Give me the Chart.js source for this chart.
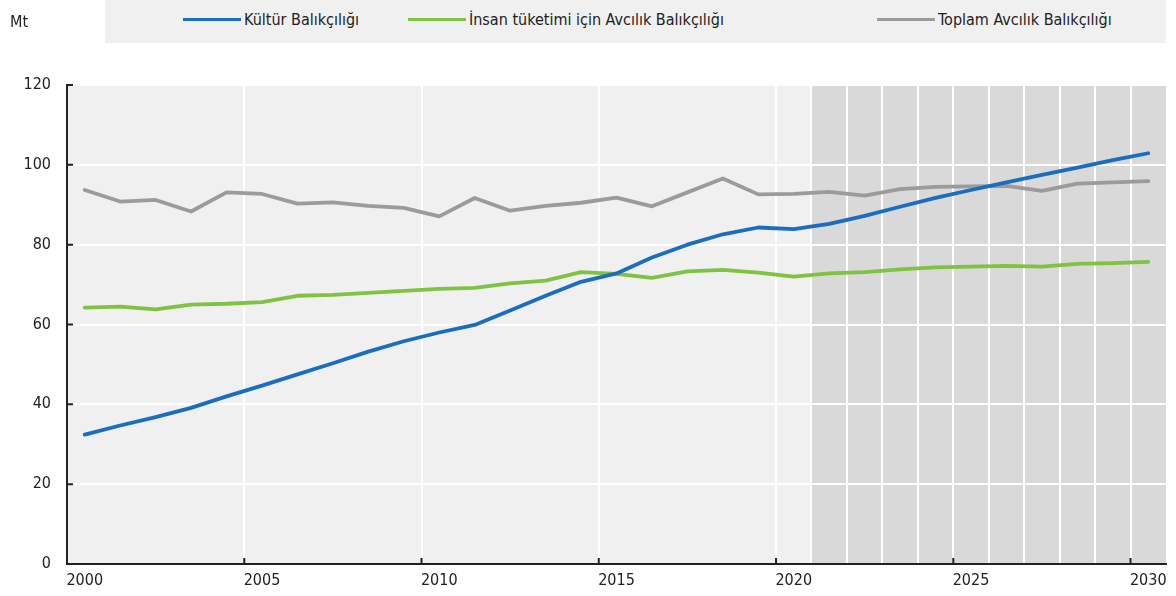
<!DOCTYPE html>
<html>
<head>
<meta charset="utf-8">
<script src="https://cdn.jsdelivr.net/npm/chart.js@4.4.1/dist/chart.umd.min.js"></script>
<style>
  html, body { margin: 0; padding: 0; background: #ffffff; }
  body { width: 1176px; height: 596px; position: relative; overflow: hidden;
         font-family: "Liberation Sans Narrow", "Arial Narrow", "DejaVu Sans Condensed", sans-serif; color: #222; }
  #chart { position: absolute; left: 0; top: 0; }
  #unit { position: absolute; left: 10px; top: 12px; font-size: 16px; }
  #band { position: absolute; left: 105px; top: 0px; width: 1061px; height: 43px; background: #f0f0f0; }
  .item { position: absolute; top: 10px; font-size: 16px; white-space: nowrap; line-height: 20px; }
  .swatch { display: inline-block; width: 58px; height: 3px; vertical-align: middle; margin-right: 3px; position: relative; top: -1px; }
</style>
</head>
<body>
<canvas id="chart" width="1176" height="596"></canvas>
<div id="unit">Mt</div>
<div id="band"></div>
<div id="legend"></div>
<script>
const years = ["2000","2001","2002","2003","2004","2005","2006","2007","2008","2009","2010",
  "2011","2012","2013","2014","2015","2016","2017","2018","2019","2020",
  "2021","2022","2023","2024","2025","2026","2027","2028","2029","2030"];

const seriesNames = ["Kültür Balıkçılığı", "İnsan tüketimi için Avcılık Balıkçılığı", "Toplam Avcılık Balıkçılığı"];

const aquaculture = [32.4, 34.7, 36.8, 39.1, 42.0, 44.7, 47.5, 50.3, 53.2, 55.8, 58.0,
  59.9, 63.5, 67.2, 70.7, 72.8, 76.8, 80.0, 82.6, 84.3, 83.9,
  85.2, 87.2, 89.5, 91.7, 93.7, 95.6, 97.5, 99.3, 101.2, 102.9];

const captureHuman = [64.25, 64.5, 63.8, 65.0, 65.2, 65.6, 67.2, 67.4, 67.9, 68.4, 68.9,
  69.2, 70.3, 71.0, 73.1, 72.7, 71.7, 73.3, 73.7, 73.0, 72.0,
  72.8, 73.1, 73.8, 74.3, 74.5, 74.7, 74.5, 75.2, 75.4, 75.7];

const captureTotal = [93.7, 90.8, 91.2, 88.3, 93.1, 92.7, 90.3, 90.6, 89.7, 89.2, 87.1,
  91.7, 88.5, 89.7, 90.5, 91.8, 89.6, 93.1, 96.6, 92.6, 92.7,
  93.2, 92.3, 93.9, 94.5, 94.6, 94.7, 93.5, 95.3, 95.6, 95.9];

const yTicks = [0, 20, 40, 60, 80, 100, 120];
const projectionStart = "2021";

const colors = ["#1a6dbf", "#80c342", "#9b9b9b"];
const legendX = [183, 408, 877];

// HTML legend
const legendEl = document.getElementById('legend');
seriesNames.forEach((name, i) => {
  const d = document.createElement('div');
  d.className = 'item';
  d.style.left = legendX[i] + 'px';
  d.innerHTML = '<span class="swatch" style="background:' + colors[i] + '"></span>' + name;
  legendEl.appendChild(d);
});

const FONT = '"Liberation Sans Narrow", "Arial Narrow", "DejaVu Sans Condensed", sans-serif';

const bgPlugin = {
  id: 'bg',
  beforeDraw(chart) {
    const { ctx, chartArea: a, scales: { x } } = chart;
    ctx.save();
    ctx.fillStyle = '#f0f0f0';
    ctx.fillRect(a.left, a.top, a.right - a.left, a.bottom - a.top);
    const idx = years.indexOf(projectionStart);
    const sx = (x.getPixelForValue(idx - 1) + x.getPixelForValue(idx)) / 2;
    ctx.fillStyle = '#d9d9d9';
    ctx.fillRect(sx, a.top, a.right - sx, a.bottom - a.top);
    ctx.restore();
  },
  afterDatasetsDraw(chart) {
    const { ctx, chartArea: a, scales: { x, y } } = chart;
    ctx.save();
    ctx.strokeStyle = '#222';
    ctx.lineWidth = 2;
    ctx.beginPath();
    for (let i = 5; i < years.length; i += 5) {
      const px = (x.getPixelForValue(i - 1) + x.getPixelForValue(i)) / 2;
      ctx.moveTo(px, a.bottom);
      ctx.lineTo(px, a.bottom - 6);
    }
    yTicks.forEach(v => {
      if (v === 0) return;
      const py = y.getPixelForValue(v);
      ctx.moveTo(a.left, py);
      ctx.lineTo(a.left + 6, py);
    });
    ctx.stroke();
    ctx.restore();
  }
};

new Chart(document.getElementById('chart'), {
  type: 'line',
  data: {
    labels: years,
    datasets: [
      { label: seriesNames[0], data: aquaculture, borderColor: colors[0] },
      { label: seriesNames[1], data: captureHuman, borderColor: colors[1] },
      { label: seriesNames[2], data: captureTotal, borderColor: colors[2] }
    ]
  },
  options: {
    responsive: false,
    animation: false,
    devicePixelRatio: 1,
    layout: { padding: { top: 85, right: 10, left: 0, bottom: 0 } },
    elements: {
      line: { borderWidth: 3.8, tension: 0, borderCapStyle: 'round', borderJoinStyle: 'round', fill: false },
      point: { radius: 0, hoverRadius: 0 }
    },
    plugins: { legend: { display: false }, tooltip: { enabled: false } },
    scales: {
      x: {
        type: 'category',
        offset: true,
        afterFit(s) { s.height = 32; },
        grid: {
          offset: true,
          drawTicks: false,
          lineWidth: 2,
          color(c) {
            const i = c.index;
            if (i === 0) return 'rgba(0,0,0,0)';
            if (i >= years.indexOf(projectionStart) || i % 5 === 0) return '#ffffff';
            return 'rgba(0,0,0,0)';
          }
        },
        border: { display: true, color: '#222', width: 2 },
        ticks: {
          autoSkip: false,
          maxRotation: 0,
          padding: 7,
          color: '#222',
          font: { family: FONT, size: 16 },
          callback(v, i) { return i % 5 === 0 ? years[i] : ''; }
        }
      },
      y: {
        min: 0,
        max: 120,
        afterFit(s) { s.width = 67; },
        afterBuildTicks(s) { s.ticks = yTicks.map(v => ({ value: v })); },
        grid: { drawTicks: false, color: '#ffffff', lineWidth: 2 },
        border: { display: true, color: '#222', width: 2 },
        ticks: {
          padding: 16,
          color: '#222',
          font: { family: FONT, size: 16 }
        }
      }
    }
  },
  plugins: [bgPlugin]
});
</script>
</body>
</html>
